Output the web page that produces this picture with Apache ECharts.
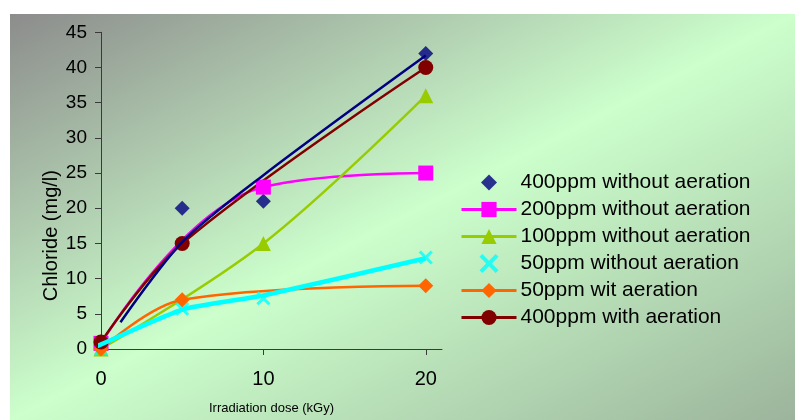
<!DOCTYPE html>
<html>
<head>
<meta charset="utf-8">
<script src="https://cdn.jsdelivr.net/npm/echarts@6/dist/echarts.min.js"></script>
<style>
  html, body { margin: 0; padding: 0; background: #ffffff; }
  #chart { width: 795px; height: 420px; }
</style>
</head>
<body>
<div id="chart"></div>
<script>
// Chloride released vs. irradiation dose, by initial concentration and aeration
const xTicks = [0, 10, 20];
const yTicks = [0, 5, 10, 15, 20, 25, 30, 35, 40, 45];

const names = [
  '400ppm without aeration',
  '200ppm without aeration',
  '100ppm without aeration',
  '50ppm without aeration',
  '50ppm wit aeration',
  '400ppm with aeration'
];

// [dose kGy, chloride mg/l]
const s400noAir = [[0, 1], [5, 20], [10, 21], [20, 42]];
const s200noAir = [[0, 0.8], [10, 23], [20, 25]];
const s100noAir = [[0, 0], [10, 15], [20, 36]];
const s50noAir  = [[0, 0], [5, 5.7], [10, 7.2], [20, 13]];
const s50air    = [[0, 0], [5, 7], [20, 9]];
const s400air   = [[0, 1], [5, 15], [20, 40]];

// fitted trend lines for the two marker-only series
const trend400noAir = [[1.2, 3.8], [5, 15.2], [10, 24.7], [20, 41.7]];
const trend50noAir  = [[-1, -0.4], [5, 5.6], [10, 7.6], [20, 12.9]];

const crossSymbol = 'path://M0,1.5 L1.5,0 L5,3.5 L8.5,0 L10,1.5 L6.5,5 L10,8.5 L8.5,10 L5,6.5 L1.5,10 L0,8.5 L3.5,5 Z';
// legend icon: a diamond centred in the full 55x19 legend slot (tiny corner specks fix the box)
const legendDiamond = 'path://M0,0 L0.01,0 L0,0.01 Z M55,19 L54.99,19 L55,18.99 Z M27.5,1.5 L35.5,9.5 L27.5,17.5 L19.5,9.5 Z';

const chart = echarts.init(document.getElementById('chart'), null, { renderer: 'canvas' });

const axisFont = { fontFamily: 'Liberation Sans, Arial, sans-serif', color: '#000000' };

// gradient across the chart panel, light band along the anti-diagonal
const panel = { x: 10, y: 14, w: 785, h: 406 };
const cx = panel.x + panel.w / 2, cy = panel.y + panel.h / 2;
const len = Math.hypot(panel.w, panel.h);
const dx = panel.h / len, dy = panel.w / len;
const half = (panel.w / 2) * dx + (panel.h / 2) * dy;

const lineSeries = (name, data, color, symbol, size, width, smooth) => ({
  name, type: 'line', data, smooth,
  symbol, symbolSize: size, showSymbol: true,
  lineStyle: { color, width },
  itemStyle: { color },
  emphasis: { disabled: true },
  z: 3
});

chart.setOption({
  animation: false,
  backgroundColor: '#ffffff',
  graphic: {
    elements: [{
      type: 'rect', silent: true, z: -100,
      shape: { x: panel.x, y: panel.y, width: panel.w, height: panel.h },
      style: {
        fill: {
          type: 'linear', global: true,
          x: cx - half * dx, y: cy - half * dy,
          x2: cx + half * dx, y2: cy + half * dy,
          colorStops: [
            { offset: 0, color: '#8c8c8c' },
            { offset: 0.5, color: '#ccffcc' },
            { offset: 1, color: '#9cb49c' }
          ]
        }
      }
    }]
  },
  grid: { left: 101, top: 32.3, right: 353, bottom: 69.6, containLabel: false },
  legend: {
    data: names.map((n, i) => (i === 0 ? { name: n, icon: legendDiamond } : { name: n })),
    orient: 'vertical',
    left: 455, top: 167,
    itemWidth: 55, itemHeight: 19, itemGap: 6,
    lineStyle: { width: 3 },
    textStyle: { ...axisFont, fontSize: 21, lineHeight: 20, padding: [0, 0, 0, -1] },
    selectedMode: false
  },
  xAxis: {
    type: 'value', min: 0, max: 21, interval: 10,
    name: 'Irradiation dose (kGy)', nameLocation: 'middle', nameGap: 53,
    nameTextStyle: { ...axisFont, fontSize: 13 },
    axisLine: { show: true, onZero: false, lineStyle: { color: '#3a3a3a', width: 1 } },
    axisTick: { show: true, length: 6, customValues: xTicks, lineStyle: { color: '#3a3a3a' } },
    axisLabel: { ...axisFont, fontSize: 20, margin: 20, customValues: xTicks },
    splitLine: { show: false }
  },
  yAxis: {
    type: 'value', min: 0, max: 45, interval: 5,
    name: 'Chloride (mg/l)', nameLocation: 'middle', nameGap: 38,
    nameTextStyle: { ...axisFont, fontSize: 20, padding: [0, 90, 0, 0] },
    axisLine: { show: true, lineStyle: { color: '#3a3a3a', width: 1 } },
    axisTick: { show: true, length: 6, customValues: yTicks, lineStyle: { color: '#3a3a3a' } },
    axisLabel: { ...axisFont, fontSize: 19, margin: 14, customValues: yTicks },
    splitLine: { show: false }
  },
  series: [
    {
      name: names[0], type: 'scatter', data: s400noAir,
      symbol: 'diamond', symbolSize: 15,
      itemStyle: { color: '#000080' }, z: 3
    },
    lineSeries(names[1], s200noAir, '#ff00ff', 'rect', 15, 2.5, 0.42),
    lineSeries(names[2], s100noAir, '#99cc00', 'triangle', 15, 2.5, 0.35),
    {
      name: names[3], type: 'scatter', data: s50noAir,
      symbol: crossSymbol, symbolSize: 14, symbolKeepAspect: true,
      itemStyle: { color: '#00ffff' }, z: 3
    },
    lineSeries(names[4], s50air, '#ff6600', 'diamond', 15, 2.5, 0.35),
    lineSeries(names[5], s400air, '#800000', 'circle', 15, 2.5, 0.35),
    {
      name: 'trend-400', type: 'line', data: trend400noAir, smooth: 0.3,
      showSymbol: false, symbol: 'none',
      lineStyle: { color: '#000080', width: 2.5 }, z: 4, clip: false
    },
    {
      name: 'trend-50', type: 'line', data: trend50noAir, smooth: 0.15,
      showSymbol: false, symbol: 'none',
      lineStyle: { color: '#00ffff', width: 4.5 }, z: 4, clip: false
    }
  ]
});
</script>
</body>
</html>
